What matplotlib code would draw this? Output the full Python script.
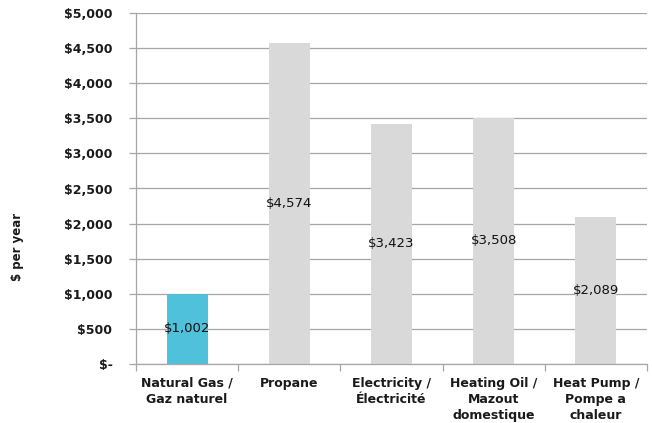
import matplotlib
matplotlib.use("Agg")
import matplotlib.pyplot as plt
import numpy as np

categories = ["Natural Gas /\nGaz naturel", "Propane", "Electricity /\nÉlectricité",
              "Heating Oil /\nMazout\ndomestique", "Heat Pump /\nPompe a\nchaleur"]
values = [1002, 4574, 3423, 3508, 2089]
value_labels = ["$1,002", "$4,574", "$3,423", "$3,508", "$2,089"]
yticks = [0, 500, 1000, 1500, 2000, 2500, 3000, 3500, 4000, 4500, 5000]
ytick_labels = ["$-", "$500", "$1,000", "$1,500", "$2,000", "$2,500", "$3,000",
                "$3,500", "$4,000", "$4,500", "$5,000"]
colors = ["#4FC1DA", "#D9D9D9", "#D9D9D9", "#D9D9D9", "#D9D9D9"]

plt.rcParams['font.family'] = ['DejaVu Sans']

fig = plt.figure(figsize=(6.52, 4.23), dpi=100)
ax = fig.add_axes([136/652, 1-364/423, (647-136)/652, (364-13)/423])

x = np.arange(len(categories))
ax.bar(x, values, width=0.4, color=colors, zorder=2)
for xi, v, lab in zip(x, values, value_labels):
    ax.text(xi, v/2, lab, ha='center', va='center', fontsize=9.5, color='#111111', zorder=3)

ax.set_xlim(-0.5, len(categories)-0.5)
ax.set_ylim(0, 5000)
ax.set_yticks(yticks)
ax.set_yticklabels(ytick_labels, fontsize=9, fontweight='bold', color='#1a1a1a')
ax.yaxis.grid(True, color='#A6A6A6', linewidth=0.9, zorder=0)
ax.set_axisbelow(True)

ax.set_xticks(x)
ax.set_xticklabels(categories, fontsize=9, fontweight='bold', color='#1a1a1a', linespacing=1.3)
ax.tick_params(axis='x', length=0, pad=9)
ax.set_xticks(np.arange(-0.5, len(categories), 1), minor=True)
ax.tick_params(axis='x', which='minor', length=5, color='#A6A6A6', width=0.9)
ax.tick_params(axis='y', length=5, color='#A6A6A6', width=0.9, pad=12)

for s in ['top', 'right']:
    ax.spines[s].set_visible(False)
for s in ['left', 'bottom']:
    ax.spines[s].set_color('#A6A6A6')
    ax.spines[s].set_linewidth(0.9)

fig.text(17/652, 1-247/423, "$ per year", rotation=90, ha='center', va='center',
         fontsize=8.5, fontweight='bold', color='#1a1a1a')

fig.savefig("out.png", dpi=100)
